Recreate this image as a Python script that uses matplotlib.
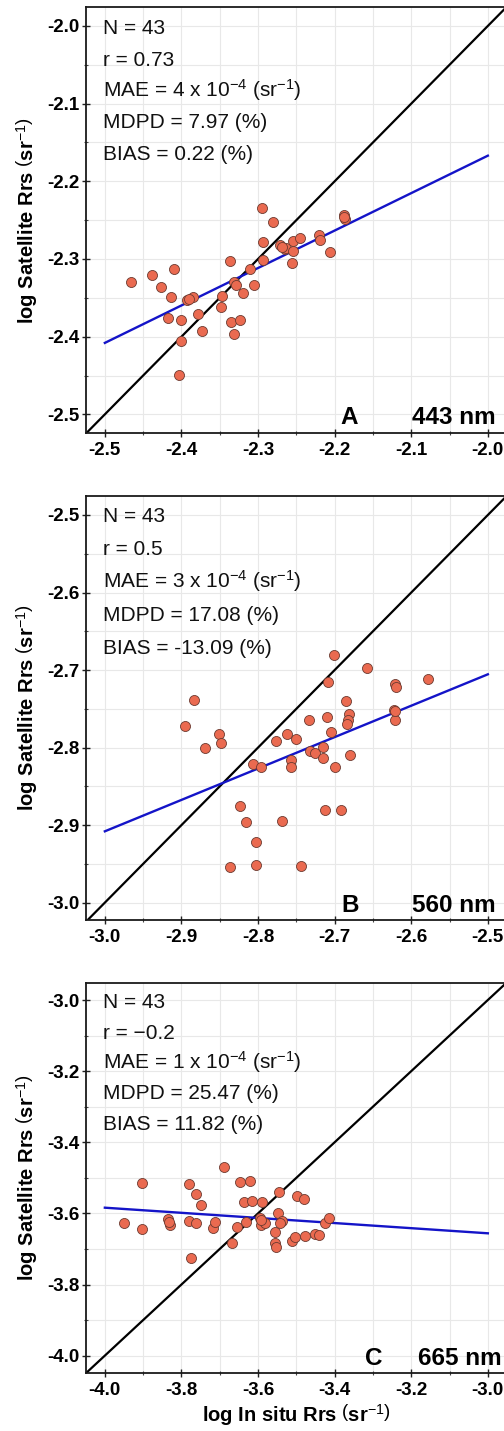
import matplotlib
matplotlib.use('Agg')
import matplotlib.pyplot as plt

plt.rcParams['font.family'] = ['Liberation Sans', 'DejaVu Sans']
plt.rcParams['mathtext.fontset'] = 'custom'
plt.rcParams['mathtext.rm'] = 'Liberation Sans'
plt.rcParams['mathtext.it'] = 'Liberation Sans:italic'
plt.rcParams['mathtext.bf'] = 'Liberation Sans:bold'

# ---------------- data ----------------
a_x = [-2.466, -2.438, -2.427, -2.410, -2.413, -2.418, -2.393, -2.385, -2.401, -2.378,
       -2.373, -2.401, -2.403, -2.337, -2.347, -2.349, -2.335, -2.332, -2.324, -2.331,
       -2.319, -2.311, -2.305, -2.295, -2.280, -2.294, -2.294, -2.271, -2.265, -2.263,
       -2.254, -2.254, -2.256, -2.245, -2.221, -2.219, -2.206, -2.188, -2.187, -2.329,
       -2.188, -2.269, -2.390]
a_y = [-2.330, -2.321, -2.336, -2.313, -2.349, -2.376, -2.353, -2.349, -2.379, -2.371,
       -2.393, -2.406, -2.449, -2.302, -2.347, -2.362, -2.381, -2.396, -2.379, -2.330,
       -2.344, -2.313, -2.333, -2.235, -2.252, -2.278, -2.301, -2.282, -2.287, -2.286,
       -2.277, -2.290, -2.305, -2.273, -2.269, -2.275, -2.291, -2.243, -2.249, -2.333,
       -2.246, -2.284, -2.351]

b_x = [-2.895, -2.884, -2.869, -2.851, -2.848, -2.837, -2.824, -2.816, -2.806, -2.796,
       -2.803, -2.803, -2.776, -2.769, -2.762, -2.757, -2.757, -2.750, -2.744, -2.733,
       -2.732, -2.726, -2.715, -2.715, -2.710, -2.709, -2.705, -2.701, -2.699, -2.712,
       -2.692, -2.685, -2.681, -2.682, -2.684, -2.680, -2.658, -2.621, -2.620, -2.622,
       -2.621, -2.578, -2.621]
b_y = [-2.772, -2.739, -2.801, -2.782, -2.794, -2.954, -2.875, -2.896, -2.821, -2.825,
       -2.922, -2.951, -2.791, -2.895, -2.782, -2.816, -2.825, -2.789, -2.953, -2.764,
       -2.804, -2.807, -2.814, -2.799, -2.761, -2.715, -2.780, -2.680, -2.825, -2.880,
       -2.880, -2.740, -2.757, -2.764, -2.770, -2.809, -2.698, -2.718, -2.722, -2.751,
       -2.764, -2.712, -2.753]

c_x = [-3.950, -3.902, -3.902, -3.834, -3.830, -3.780, -3.761, -3.748, -3.781, -3.763,
       -3.776, -3.717, -3.712, -3.688, -3.669, -3.656, -3.648, -3.636, -3.631, -3.621,
       -3.615, -3.590, -3.595, -3.591, -3.582, -3.557, -3.557, -3.553, -3.546, -3.548,
       -3.538, -3.543, -3.512, -3.503, -3.497, -3.481, -3.477, -3.451, -3.441, -3.425,
       -3.414, -3.832, -3.593]
c_y = [-3.626, -3.514, -3.643, -3.616, -3.633, -3.518, -3.546, -3.577, -3.622, -3.628,
       -3.726, -3.642, -3.624, -3.469, -3.684, -3.638, -3.512, -3.567, -3.625, -3.510,
       -3.565, -3.568, -3.612, -3.632, -3.626, -3.652, -3.684, -3.694, -3.540, -3.598,
       -3.621, -3.626, -3.679, -3.667, -3.552, -3.559, -3.664, -3.658, -3.662, -3.628,
       -3.612, -3.623, -3.620]

# regression lines (end points)
a_fit_x = [-2.5, -2.0]
a_fit_y = [-2.408, -2.167]
b_fit_x = [-3.0, -2.5]
b_fit_y = [-2.908, -2.7055]
c_fit_x = [-4.0, -3.0]
c_fit_y = [-3.584, -3.656]

a_ticks = [-2.5, -2.4, -2.3, -2.2, -2.1, -2.0]
b_ticks = [-3.0, -2.9, -2.8, -2.7, -2.6, -2.5]
c_ticks = [-4.0, -3.8, -3.6, -3.4, -3.2, -3.0]
a_minor = [-2.45, -2.35, -2.25, -2.15, -2.05]
b_minor = [-2.95, -2.85, -2.75, -2.65, -2.55]
c_minor = [-3.9, -3.7, -3.5, -3.3, -3.1]

letters = ['A', 'B', 'C']
wavelengths = ['443 nm', '560 nm', '665 nm']
stats = [
    ['N = 43', 'r = 0.73', 'MAE = 4 x 10$^{-4}$ (sr$^{-1}$)', 'MDPD = 7.97 (%)', 'BIAS = 0.22 (%)'],
    ['N = 43', 'r = 0.5', 'MAE = 3 x 10$^{-4}$ (sr$^{-1}$)', 'MDPD = 17.08 (%)', 'BIAS = -13.09 (%)'],
    ['N = 43', 'r = \u22120.2', 'MAE = 1 x 10$^{-4}$ (sr$^{-1}$)', 'MDPD = 25.47 (%)', 'BIAS = 11.82 (%)'],
]
ylabel = 'log Satellite Rrs $\\left(\\mathbf{sr}^{-1}\\right)$'
xlabel = 'log In situ Rrs $\\left(\\mathbf{sr}^{-1}\\right)$'

# ---------------- layout ----------------
W, H = 504, 1431
fig = plt.figure(figsize=(W / 100, H / 100), dpi=100)

# pixel rects: left, top, right, bottom
rects = [(85.7, 7.3, 507.0, 433.0), (85.7, 496.0, 507.0, 920.0), (85.7, 983.3, 507.0, 1372.7)]
xlims = [(-2.525, -1.975), (-3.025, -2.475), (-4.05, -2.95)]
ylims = [(-2.524, -1.976), (-3.0224, -2.4755), (-4.048, -2.953)]
first_base = [27.0, 25.7, 25.0]
line_step = [31.3, 33.0, 30.3]
letter_pos = [(255, 9), (256, 8.3), (279, 7.7)]
wl_right = [409.5, 409.5, 416.0]

xs = [a_x, b_x, c_x]
ys = [a_y, b_y, c_y]
fxs = [a_fit_x, b_fit_x, c_fit_x]
fys = [a_fit_y, b_fit_y, c_fit_y]
majors = [a_ticks, b_ticks, c_ticks]
minors = [a_minor, b_minor, c_minor]

for i in range(3):
    l, t, r, b = rects[i]
    ax = fig.add_axes([l / W, 1 - b / H, (r - l) / W, (b - t) / H])
    ax.set_xlim(*xlims[i])
    ax.set_ylim(*ylims[i])
    ax.set_axisbelow(True)

    ax.set_xticks(majors[i], labels=['%.1f' % v for v in majors[i]], fontweight='bold')
    ax.set_yticks(majors[i], labels=['%.1f' % v for v in majors[i]], fontweight='bold')
    ax.set_xticks(minors[i], minor=True)
    ax.set_yticks(minors[i], minor=True)
    ax.tick_params(which='major', direction='inout', length=6, width=1.0,
                   labelsize=13.5, color='#222222')
    ax.tick_params(axis='x', which='major', pad=3.5)
    ax.tick_params(axis='y', which='major', pad=1.5)
    ax.tick_params(which='minor', direction='inout', length=3, width=0.8, color='#444444')
    ax.grid(True, which='both', color='#e8e8e8', linewidth=0.8)
    for sp in ax.spines.values():
        sp.set_linewidth(1.3)
        sp.set_color('#1a1a1a')

    ax.axline((xlims[i][0], xlims[i][0]), slope=1, color='black', lw=1.6, zorder=2)
    ax.plot(fxs[i], fys[i], color='#1414c8', lw=1.7, zorder=2.5)
    ax.scatter(xs[i], ys[i], s=52, facecolor='#EA6A50', edgecolor='#6b3a30',
               linewidth=0.6, zorder=3)

    for k, line in enumerate(stats[i]):
        ax.annotate(line, xy=(0, 1), xycoords='axes fraction',
                    xytext=(17, -(first_base[i] + k * line_step[i])),
                    textcoords='offset pixels', ha='left', va='baseline',
                    fontsize=15, color='#111111')
    ax.annotate(letters[i], xy=(0, 0), xycoords='axes fraction',
                xytext=letter_pos[i], textcoords='offset pixels',
                ha='left', va='baseline', fontsize=17.5, fontweight='bold')
    ax.annotate(wavelengths[i], xy=(0, 0), xycoords='axes fraction',
                xytext=(wl_right[i], letter_pos[i][1]), textcoords='offset pixels',
                ha='right', va='baseline', fontsize=17.5, fontweight='bold')

    fig.text(27 / W, 1 - ((t + b) / 2) / H, ylabel, rotation=90, ha='center',
             va='center', fontsize=14.5, fontweight='bold')

fig.text(296 / W, 1 - 1415 / H, xlabel, ha='center', va='center',
         fontsize=14.5, fontweight='bold')

fig.savefig('out.png', dpi=100)
